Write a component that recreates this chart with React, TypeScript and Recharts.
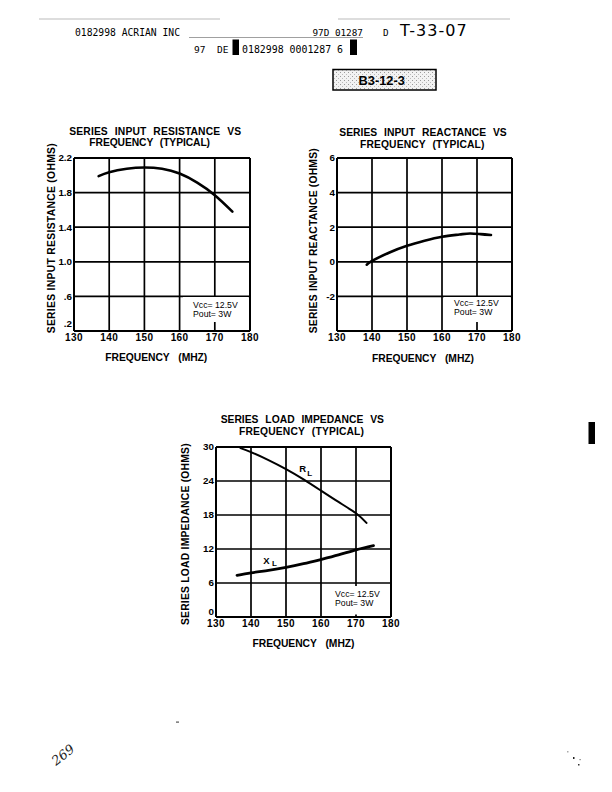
import { LineChart, Line, XAxis, YAxis, CartesianGrid, ReferenceLine } from "recharts";

// frequency axis shared by all three plots (MHz)
const freqTicks = [130, 140, 150, 160, 170, 180];

// series input resistance
const resistanceFreq = [137, 140, 145, 150, 155, 160, 165, 170, 175];
const resistanceOhms = [1.99, 2.035, 2.075, 2.09, 2.075, 2.02, 1.915, 1.77, 1.58];
const resistanceTicks = [0.2, 0.6, 1.0, 1.4, 1.8, 2.2];
const resistanceTickLabels = [".2", ".6", "1.0", "1.4", "1.8", "2.2"];

// series input reactance
const reactanceFreq = [138.5, 140, 145, 150, 155, 160, 165, 168, 171, 174];
const reactanceOhms = [-0.17, 0.05, 0.54, 0.93, 1.22, 1.45, 1.58, 1.64, 1.6, 1.55];
const reactanceTicks = [-4, -2, 0, 2, 4, 6];
const reactanceTickLabels = ["", "-2", "0", "2", "4", "6"];

// series load impedance
const loadFreqR = [137, 140, 145, 150, 155, 160, 165, 170, 173];
const loadR = [29.8, 29.1, 27.7, 26.1, 24.3, 22.3, 20.3, 18.3, 16.6];
const loadFreqX = [136, 140, 145, 150, 155, 160, 165, 170, 175];
const loadX = [7.35, 7.8, 8.24, 8.75, 9.4, 10.15, 10.95, 11.85, 12.6];
const loadTicks = [0, 6, 12, 18, 24, 30];
const loadTickLabels = ["0", "6", "12", "18", "24", "30"];

const SANS = "'Liberation Sans', Arial, Helvetica, sans-serif";
const MONO = "'DejaVu Sans Mono', 'Liberation Mono', monospace";

const toPoints = (f: number[], v: number[]) => f.map((x, i) => ({ f: x, v: v[i] }));

type Series = { f: number[]; v: number[]; w: number };

interface PlotProps {
  left: number;
  top: number;
  width: number;
  height: number;
  margin: { top: number; right: number; bottom: number; left: number };
  yTicks: number[];
  yLabels: string[];
  lift: number;
  series: Series[];
}

function Plot({ left, top, width, height, margin, yTicks, yLabels, lift, series }: PlotProps) {
  const yMin = yTicks[0];
  const yMax = yTicks[yTicks.length - 1];
  const yTick = (p: any) => {
    const i = yTicks.indexOf(p.payload.value);
    return (
      <text
        x={p.x}
        y={p.y - (i === 0 ? lift : 0)}
        dy="0.355em"
        textAnchor="end"
        fontSize={9.8}
        fontWeight="bold"
        fontFamily={SANS}
        fill="#000"
      >
        {yLabels[i]}
      </text>
    );
  };
  const axisLine = { stroke: "#000", strokeWidth: 2 };
  return (
    <div style={{ position: "absolute", left, top }}>
      <LineChart width={width} height={height} margin={margin}>
        <CartesianGrid stroke="#000" strokeWidth={1.7} />
        <XAxis
          type="number"
          dataKey="f"
          domain={[130, 180]}
          ticks={freqTicks}
          interval={0}
          height={20}
          tickSize={0}
          tickMargin={3}
          tickLine={false}
          axisLine={axisLine}
          tick={{ fontSize: 10, fontWeight: "bold", fill: "#000", fontFamily: SANS, letterSpacing: 0.4 }}
        />
        <YAxis
          type="number"
          domain={[yMin, yMax]}
          ticks={yTicks}
          interval={0}
          width={30}
          tickSize={0}
          tickMargin={2}
          tickLine={false}
          axisLine={axisLine}
          tick={yTick}
        />
        <ReferenceLine y={yMax} stroke="#000" strokeWidth={2} />
        <ReferenceLine x={180} stroke="#000" strokeWidth={2} />
        {series.map((s, i) => (
          <Line
            key={i}
            data={toPoints(s.f, s.v)}
            dataKey="v"
            type="natural"
            stroke="#000"
            strokeWidth={s.w}
            strokeLinecap="round"
            dot={false}
            activeDot={false}
            isAnimationActive={false}
          />
        ))}
      </LineChart>
    </div>
  );
}

function Title({ x, y, lines, lens }: { x: number[]; y: number[]; lines: string[]; lens: number[] }) {
  return (
    <>
      {lines.map((t, i) => (
        <text
          key={i}
          x={x[i]}
          y={y[i]}
          textAnchor="middle"
          fontFamily={SANS}
          fontWeight="bold"
          fontSize={10.3}
          style={{ wordSpacing: 4 }}
          textLength={lens[i]}
          lengthAdjust="spacing"
        >
          {t}
        </text>
      ))}
    </>
  );
}

function YLabel({ x, y, text, len }: { x: number; y: number; text: string; len: number }) {
  return (
    <text
      transform={`translate(${x},${y}) rotate(-90)`}
      textAnchor="middle"
      fontFamily={SANS}
      fontWeight="bold"
      fontSize={10.3}
      textLength={len}
      lengthAdjust="spacing"
    >
      {text}
    </text>
  );
}

function XLabel({ x, y }: { x: number; y: number }) {
  return (
    <text
      x={x}
      y={y}
      textAnchor="middle"
      fontFamily={SANS}
      fontWeight="bold"
      fontSize={10.3}
      style={{ wordSpacing: 6 }}
      textLength={102}
      lengthAdjust="spacing"
    >
      FREQUENCY (MHZ)
    </text>
  );
}

function Conditions({ x, y, box }: { x: number; y: number; box: [number, number, number, number] }) {
  return (
    <>
      <rect x={box[0]} y={box[1]} width={box[2]} height={box[3]} fill="#fff" />
      <text x={x} y={y} fontFamily={SANS} fontSize={8.7}>
        Vcc= 12.5V
      </text>
      <text x={x} y={y + 9.3} fontFamily={SANS} fontSize={8.7}>
        Pout= 3W
      </text>
    </>
  );
}

export default function App() {
  return (
    <div
      style={{
        position: "absolute",
        left: 0,
        top: 0,
        width: 612,
        height: 792,
        background: "#fff",
        overflow: "hidden",
      }}
    >
      <Plot
        left={10}
        top={120}
        width={260}
        height={250}
        margin={{ top: 38, right: 20, bottom: 19, left: 34 }}
        yTicks={resistanceTicks}
        yLabels={resistanceTickLabels}
        lift={7}
        series={[{ f: resistanceFreq, v: resistanceOhms, w: 2.6 }]}
      />
      <Plot
        left={300}
        top={120}
        width={230}
        height={250}
        margin={{ top: 38, right: 18, bottom: 19, left: 7 }}
        yTicks={reactanceTicks}
        yLabels={reactanceTickLabels}
        lift={0}
        series={[{ f: reactanceFreq, v: reactanceOhms, w: 2.6 }]}
      />
      <Plot
        left={170}
        top={405}
        width={240}
        height={250}
        margin={{ top: 42, right: 19, bottom: 18, left: 16 }}
        yTicks={loadTicks}
        yLabels={loadTickLabels}
        lift={5}
        series={[
          { f: loadFreqR, v: loadR, w: 2 },
          { f: loadFreqX, v: loadX, w: 2.8 },
        ]}
      />
      <svg
        width={612}
        height={792}
        style={{ position: "absolute", left: 0, top: 0, pointerEvents: "none" }}
      >
        <defs>
          <pattern id="stipple" width="4" height="4" patternUnits="userSpaceOnUse">
            <rect width="4" height="4" fill="#f2f2f2" />
            <rect x="0" y="0" width="1" height="1" fill="#999" />
            <rect x="2" y="2" width="1" height="1" fill="#bbb" />
          </pattern>
        </defs>

        {/* header */}
        <line x1={39} y1={19} x2={220} y2={19} stroke="#aaa" strokeWidth={0.8} />
        <line x1={338} y1={19} x2={510} y2={19} stroke="#aaa" strokeWidth={0.8} />
        <line x1={189} y1={37.5} x2={363} y2={37.5} stroke="#888" strokeWidth={0.8} />
        <text x={75} y={35.5} fontFamily={MONO} fontSize={9.7}>
          0182998 ACRIAN INC
        </text>
        <text x={312.5} y={35.5} fontFamily={MONO} fontSize={9.3}>
          97D 01287
        </text>
        <text x={383} y={35.5} fontFamily={MONO} fontSize={9.3}>
          D
        </text>
        <text x={400} y={36} fontFamily="'DejaVu Sans', sans-serif" fontSize={16} letterSpacing={1}>
          T-33-07
        </text>
        <text x={194} y={53} fontFamily={MONO} fontSize={9.5}>
          97
        </text>
        <text x={217} y={53} fontFamily={MONO} fontSize={9.5}>
          DE
        </text>
        <rect x={232.5} y={39.5} width={6.5} height={15.5} fill="#000" />
        <text x={242} y={53} fontFamily={MONO} fontSize={9.9}>
          0182998 0001287 6
        </text>
        <rect x={350} y={39.5} width={7} height={15.5} fill="#000" />

        <rect x={333} y={69.5} width={103} height={20.5} fill="url(#stipple)" stroke="#000" strokeWidth={1.5} />
        <text x={381.7} y={85} textAnchor="middle" fontFamily={SANS} fontWeight="bold" fontSize={12.8}>
          B3-12-3
        </text>

        {/* chart 1 */}
        <Title
          x={[155.2, 149.7]}
          y={[135, 146.3]}
          lines={["SERIES INPUT RESISTANCE VS", "FREQUENCY (TYPICAL)"]}
          lens={[171.7, 120.7]}
        />
        <YLabel x={55} y={238.3} text="SERIES INPUT RESISTANCE (OHMS)" len={190} />
        <XLabel x={156.3} y={360.7} />
        <Conditions x={193} y={307.7} box={[183, 297, 65.5, 25]} />

        {/* chart 2 */}
        <Title
          x={[423, 422.2]}
          y={[136.3, 147.7]}
          lines={["SERIES INPUT REACTANCE VS", "FREQUENCY (TYPICAL)"]}
          lens={[167.4, 124.3]}
        />
        <YLabel x={316.5} y={240.8} text="SERIES INPUT REACTANCE (OHMS)" len={185} />
        <XLabel x={423} y={361.7} />
        <Conditions x={454} y={305.7} box={[444, 297, 66.5, 25]} />

        {/* chart 3 */}
        <Title
          x={[302.3, 301.5]}
          y={[423.3, 435]}
          lines={["SERIES LOAD IMPEDANCE VS", "FREQUENCY (TYPICAL)"]}
          lens={[163.3, 125]}
        />
        <YLabel x={188.5} y={534.2} text="SERIES LOAD IMPEDANCE (OHMS)" len={181.7} />
        <XLabel x={303.5} y={646.7} />
        <Conditions x={335} y={596.7} box={[323, 586, 66.5, 28.5]} />
        <text x={299.3} y={472.3} fontFamily={SANS} fontWeight="bold" fontSize={9.5}>
          R
          <tspan x={307.3} y={475.7} fontSize={8}>
            L
          </tspan>
        </text>
        <text x={263.3} y={563.7} fontFamily={SANS} fontWeight="bold" fontSize={9.5}>
          X
          <tspan x={272} y={566.3} fontSize={8}>
            L
          </tspan>
        </text>

        {/* page marks */}
        <rect x={588.5} y={422} width={6.5} height={22} fill="#000" />
        <rect x={176} y={721.5} width={3} height={1.2} fill="#555" />
        <rect x={567} y={751} width={1.5} height={1.5} fill="#aaa" />
        <rect x={573} y={757} width={1.5} height={2} fill="#222" />
        <rect x={579.5} y={759} width={1.2} height={1.2} fill="#777" />
        <rect x={578} y={764} width={1.5} height={1.5} fill="#333" />
        <text
          transform="translate(56,766) rotate(-38)"
          fontFamily="'DejaVu Serif', serif"
          fontStyle="italic"
          fontSize={13}
          fill="#222"
        >
          269
        </text>
      </svg>
    </div>
  );
}
